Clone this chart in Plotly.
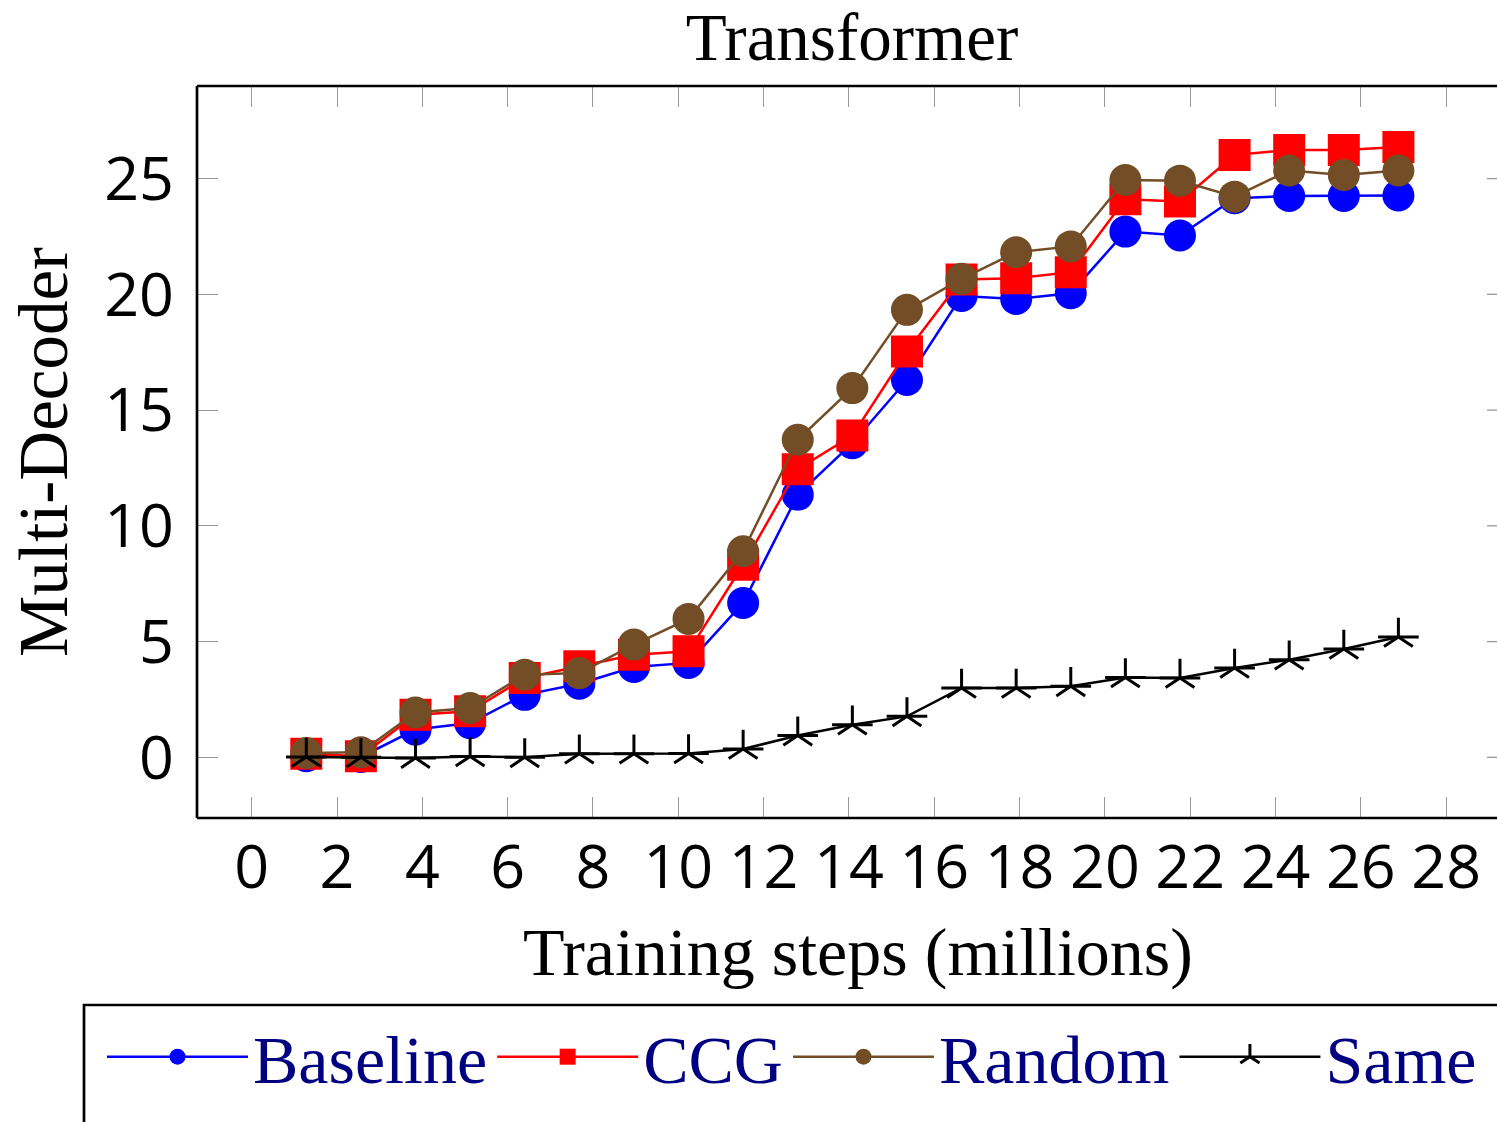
import plotly.graph_objects as go

steps = [1.28, 2.56, 3.84, 5.12, 6.40, 7.68, 8.96, 10.24, 11.52, 12.80, 14.08,
         15.36, 16.64, 17.92, 19.20, 20.48, 21.76, 23.04, 24.32, 25.60, 26.88]
baseline = [0.05, 0.02, 1.2, 1.48, 2.7, 3.18, 3.9, 4.08, 6.67, 11.34, 13.57,
            16.3, 19.93, 19.8, 20.05, 22.71, 22.54, 24.15, 24.25, 24.25, 24.27]
ccg = [0.16, 0.05, 1.84, 1.99, 3.43, 3.93, 4.43, 4.58, 8.32, 12.45, 13.9,
       17.53, 20.64, 20.7, 20.96, 24.11, 24.01, 26.02, 26.24, 26.24, 26.36]
random_ = [0.19, 0.22, 1.94, 2.13, 3.57, 3.64, 4.87, 5.98, 8.9, 13.72, 15.95,
           19.33, 20.67, 21.82, 22.07, 24.94, 24.91, 24.22, 25.35, 25.16, 25.35]
same = [0.02, 0.0, -0.03, 0.04, 0.0, 0.16, 0.16, 0.17, 0.36, 0.94, 1.41,
        1.77, 3.0, 3.0, 3.07, 3.45, 3.43, 3.86, 4.22, 4.68, 5.2]

x_ticks = list(range(0, 29, 2))
y_ticks = [0, 5, 10, 15, 20, 25]

BLUE = "#0000FF"
RED = "#FF0000"
BROWN = "#734D26"
NAVY = "#000080"
SERIF = "Liberation Serif, Times New Roman, serif"
SANS = "Open Sans, DejaVu Sans, sans-serif"

W, H = 1497, 1122
L, R, T, B = 197, 0, 86, 304
pw = W - L - R
ph = H - T - B

fig = go.Figure()
fig.add_trace(go.Scatter(x=steps, y=baseline, name="Baseline", mode="lines+markers",
                         line=dict(color=BLUE, width=2.5),
                         marker=dict(symbol="circle", size=32, color=BLUE, line=dict(width=0))))
fig.add_trace(go.Scatter(x=steps, y=ccg, name="CCG", mode="lines+markers",
                         line=dict(color=RED, width=2.5),
                         marker=dict(symbol="square", size=32, color=RED, line=dict(width=0))))
fig.add_trace(go.Scatter(x=steps, y=random_, name="Random", mode="lines+markers",
                         line=dict(color=BROWN, width=2.5),
                         marker=dict(symbol="circle", size=32, color=BROWN, line=dict(width=0))))
fig.add_trace(go.Scatter(x=steps, y=same, name="Same", mode="lines+markers", legendgroup="same",
                         line=dict(color="black", width=2.5),
                         marker=dict(symbol="y-up-open", size=24, color="black",
                                     line=dict(width=3, color="black"))))
fig.add_trace(go.Scatter(x=steps, y=same, name="Same", mode="markers", legendgroup="same",
                         showlegend=False, hoverinfo="skip",
                         marker=dict(symbol="line-ew-open", size=29, color="black",
                                     line=dict(width=3, color="black"))))

xmin = (197 - 251.7) / 42.66
xmax = (1497 - 251.7) / 42.66
ymin = -2.62
ymax = 29.0

axis_common = dict(showgrid=False, zeroline=False, showline=False,
                   ticks="inside", ticklen=21, tickwidth=1.3, tickcolor="#999999",
                   tickfont=dict(family=SANS, size=61, color="black"))

fig.update_xaxes(range=[xmin, xmax], tickvals=x_ticks, ticktext=[str(v) for v in x_ticks],
                 mirror="ticks", ticklabelstandoff=8, **axis_common)
fig.update_yaxes(range=[ymin, ymax], tickvals=y_ticks, ticktext=[str(v) for v in y_ticks],
                 mirror=False, ticklabelstandoff=22,
                 title=dict(text="Multi-Decoder",
                            font=dict(family=SERIF, size=69, color="black"), standoff=14),
                 **axis_common)

shapes = []
# frame: left, top, bottom (right edge lies beyond the picture)
shapes.append(dict(type="line", xref="paper", yref="paper", x0=0, x1=0, y0=0, y1=1,
                   line=dict(color="black", width=2.7)))
shapes.append(dict(type="line", xref="paper", yref="paper", x0=0, x1=1.01, y0=1, y1=1,
                   line=dict(color="black", width=2.7)))
shapes.append(dict(type="line", xref="paper", yref="paper", x0=0, x1=1.01, y0=0, y1=0,
                   line=dict(color="black", width=2.7)))
# right-side ticks partly visible at image edge
for v in y_ticks:
    shapes.append(dict(type="line", xref="paper", yref="y", x0=1 - 10 / pw, x1=1.01, y0=v, y1=v,
                       line=dict(color="#999999", width=1.3)))
# legend frame (extends past the picture's right and bottom edges)
shapes.append(dict(type="rect", xref="paper", yref="paper",
                   x0=(84 - L) / pw, x1=(1520 - L) / pw,
                   y0=(818 - 1005) / ph, y1=(818 - 1140) / ph,
                   line=dict(color="black", width=2.7), fillcolor="rgba(0,0,0,0)"))

annotations = [
    dict(text="Training steps (millions)", xref="paper", yref="paper",
         x=(858 - L) / pw, y=(818 - 952) / ph, xanchor="center", yanchor="middle",
         showarrow=False, font=dict(family=SERIF, size=68, color="black")),
]

fig.update_layout(
    width=W, height=H,
    margin=dict(l=L, r=R, t=T, b=B, pad=0),
    paper_bgcolor="white", plot_bgcolor="white",
    title=dict(text="Transformer", font=dict(family=SERIF, size=67, color="black"),
               xref="paper", x=(852 - L) / pw, xanchor="center",
               yref="container", y=1 - 37 / H, yanchor="middle"),
    showlegend=True,
    legend=dict(orientation="h", xref="paper", yref="paper",
                x=(102 - L) / pw, y=(818 - 1006) / ph, xanchor="left", yanchor="top",
                borderwidth=0, bgcolor="rgba(0,0,0,0)",
                font=dict(family=SERIF, size=68, color=NAVY),
                itemwidth=141, tracegroupgap=0),
    shapes=shapes,
    annotations=annotations,
)

fig.write_html("out.html")
